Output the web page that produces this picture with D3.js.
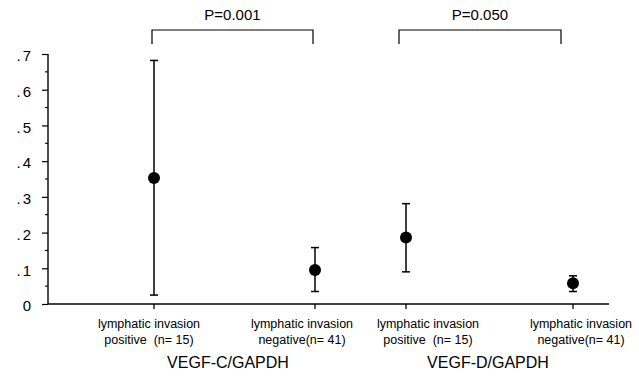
<!DOCTYPE html>
<html>
<head>
<meta charset="utf-8">
<script src="https://cdn.jsdelivr.net/npm/d3@7"></script>
<style>
  html, body { margin: 0; padding: 0; background: #fff; }
  svg { display: block; }
  text { font-family: "Liberation Sans", Arial, sans-serif; fill: #000; white-space: pre; }
</style>
</head>
<body>
<svg id="chart" width="639" height="376"></svg>
<script>
// ---- data ----
const categories = ["C_pos", "C_neg", "D_pos", "D_neg"];
const labelLine1 = ["lymphatic invasion", "lymphatic invasion", "lymphatic invasion", "lymphatic invasion"];
const labelLine2 = ["positive  (n= 15)", "negative(n= 41)", "positive  (n= 15)", "negative(n= 41)"];
const means = [0.353, 0.095, 0.186, 0.058];
const upper = [0.682, 0.158, 0.281, 0.079];
const lower = [0.025, 0.035, 0.090, 0.035];
const groupLabels = ["VEGF-C/GAPDH", "VEGF-D/GAPDH"];
const pValues = ["P=0.001", "P=0.050"];
const yTicks = [0, 0.1, 0.2, 0.3, 0.4, 0.5, 0.6, 0.7];
const yMinorTicks = [0.05, 0.15, 0.25, 0.35, 0.45, 0.55, 0.65];

// ---- layout ----
const svg = d3.select("#chart");
const axisX = 48, axisY = 304, axisRight = 609;
const y = d3.scaleLinear().domain([0, 0.7]).range([304, 54]);
const x = d3.scaleOrdinal().domain(categories).range([154, 315, 406, 573]);
const labelOffset = [-5, -13, 22, 8];
const groupCenters = [228, 488];
const bracketSpans = [[152, 313], [399, 561]];

// y axis
const yAxis = d3.axisLeft(y).tickValues(yTicks).tickSize(6).tickPadding(9)
  .tickFormat(d => d === 0 ? "0" : d3.format(".1f")(d).replace(/^0/, ""));
const gy = svg.append("g").attr("transform", `translate(${axisX},0)`).call(yAxis);
gy.select(".domain").remove();
gy.selectAll(".tick line").attr("stroke", "#000").attr("stroke-width", 1.2);
gy.selectAll(".tick text").style("font-size", "15px").attr("fill", "#000")
  .attr("dy", "0.45em").style("letter-spacing", "2px")
  .style("font-family", "'Liberation Sans Narrow', 'Liberation Sans', Arial, sans-serif");
svg.append("line").attr("x1", axisX).attr("x2", axisX)
  .attr("y1", y(0.7)).attr("y2", axisY).attr("stroke", "#000").attr("stroke-width", 1.4);
svg.append("g").selectAll("line").data(yMinorTicks).join("line")
  .attr("x1", axisX - 3).attr("x2", axisX).attr("y1", d => y(d)).attr("y2", d => y(d))
  .attr("stroke", "#000").attr("stroke-width", 1.1);

// x axis
svg.append("line").attr("x1", axisX).attr("x2", axisRight)
  .attr("y1", axisY).attr("y2", axisY).attr("stroke", "#000").attr("stroke-width", 1.5);
svg.append("g").selectAll("line").data(categories).join("line")
  .attr("x1", d => x(d)).attr("x2", d => x(d)).attr("y1", axisY).attr("y2", axisY + 5)
  .attr("stroke", "#000").attr("stroke-width", 1.3);

// category labels
const lab = svg.append("g").selectAll("text").data(categories).join("text")
  .attr("text-anchor", "middle").style("font-size", "12.5px");
lab.append("tspan").attr("x", (d, i) => x(d) + labelOffset[i]).attr("y", 328).text((d, i) => labelLine1[i]);
lab.append("tspan").attr("x", (d, i) => x(d) + labelOffset[i]).attr("y", 344).text((d, i) => labelLine2[i]);

// group labels
svg.append("g").selectAll("text").data(groupLabels).join("text")
  .attr("x", (d, i) => groupCenters[i]).attr("y", 368).attr("text-anchor", "middle")
  .style("font-size", "16px").text(d => d);

// error bars
const eb = svg.append("g").selectAll("g").data(categories).join("g");
eb.append("line").attr("x1", d => x(d)).attr("x2", d => x(d))
  .attr("y1", (d, i) => y(upper[i])).attr("y2", (d, i) => y(lower[i]))
  .attr("stroke", "#000").attr("stroke-width", 1.5);
eb.append("line").attr("x1", d => x(d) - 4).attr("x2", d => x(d) + 4)
  .attr("y1", (d, i) => y(upper[i])).attr("y2", (d, i) => y(upper[i]))
  .attr("stroke", "#000").attr("stroke-width", 1.5);
eb.append("line").attr("x1", d => x(d) - 4).attr("x2", d => x(d) + 4)
  .attr("y1", (d, i) => y(lower[i])).attr("y2", (d, i) => y(lower[i]))
  .attr("stroke", "#000").attr("stroke-width", 1.5);
eb.append("circle").attr("cx", d => x(d)).attr("cy", (d, i) => y(means[i]))
  .attr("r", 6).attr("fill", "#000");

// brackets with p-values
const br = svg.append("g").selectAll("g").data(pValues).join("g");
br.append("path")
  .attr("d", (d, i) => `M${bracketSpans[i][0]},44 V30 H${bracketSpans[i][1]} V44`)
  .attr("fill", "none").attr("stroke", "#000").attr("stroke-width", 1.2);
br.append("text")
  .attr("x", (d, i) => (bracketSpans[i][0] + bracketSpans[i][1]) / 2)
  .attr("y", 20).attr("text-anchor", "middle").style("font-size", "15px").text(d => d);
</script>
</body>
</html>
